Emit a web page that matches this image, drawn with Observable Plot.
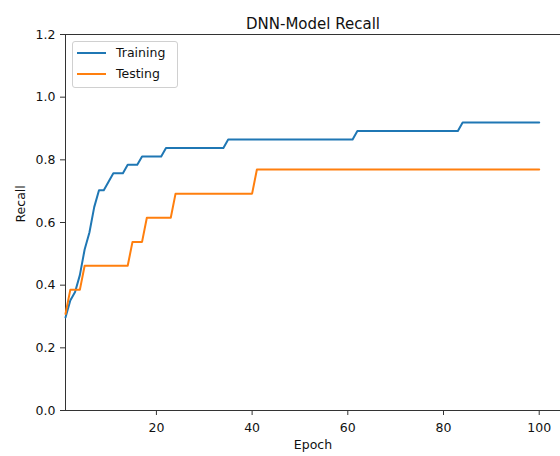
<!DOCTYPE html>
<html>
<head>
<meta charset="utf-8">
<script src="https://cdn.jsdelivr.net/npm/d3@7"></script>
<script src="https://cdn.jsdelivr.net/npm/@observablehq/plot@0.6"></script>
<style>
  html, body { margin: 0; padding: 0; background: #fff; }
  #wrap { position: relative; width: 560px; height: 456px; font-family: "DejaVu Sans", sans-serif; }
  #legend { position: absolute; left: 72px; top: 41px; width: 106px; height: 47px; box-sizing: border-box;
            border: 1px solid #d0d0d0; border-radius: 3px; background: rgba(255,255,255,0.8); }
  .item { position: absolute; left: 0; height: 16px; font-size: 12.5px; color: #111; line-height: 16px; }
  .sw { position: absolute; left: 4px; top: 7px; width: 29px; height: 2px; }
  .lab { position: absolute; left: 43px; top: 0; white-space: nowrap; }
</style>
</head>
<body>
<div id="wrap"></div>
<script>
const title = "DNN-Model Recall";
const xLabel = "Epoch";
const yLabel = "Recall";
const seriesNames = ["Training", "Testing"];
const seriesColors = ["#1f77b4", "#ff7f0e"];
const xTicks = [20, 40, 60, 80, 100];
const yTicks = [0.0, 0.2, 0.4, 0.6, 0.8, 1.0, 1.2];
const xDomain = [1, 104.45];
const yDomain = [0, 1.2];

const epochs = [
  1,2,3,4,5,6,7,8,9,10,
  11,12,13,14,15,16,17,18,19,20,
  21,22,23,24,25,26,27,28,29,30,
  31,32,33,34,35,36,37,38,39,40,
  41,42,43,44,45,46,47,48,49,50,
  51,52,53,54,55,56,57,58,59,60,
  61,62,63,64,65,66,67,68,69,70,
  71,72,73,74,75,76,77,78,79,80,
  81,82,83,84,85,86,87,88,89,90,
  91,92,93,94,95,96,97,98,99,100
];

const training = [
  0.297,0.351,0.378,0.432,0.514,0.568,0.649,0.703,0.703,0.730,
  0.757,0.757,0.757,0.784,0.784,0.784,0.811,0.811,0.811,0.811,
  0.811,0.838,0.838,0.838,0.838,0.838,0.838,0.838,0.838,0.838,
  0.838,0.838,0.838,0.838,0.865,0.865,0.865,0.865,0.865,0.865,
  0.865,0.865,0.865,0.865,0.865,0.865,0.865,0.865,0.865,0.865,
  0.865,0.865,0.865,0.865,0.865,0.865,0.865,0.865,0.865,0.865,
  0.865,0.892,0.892,0.892,0.892,0.892,0.892,0.892,0.892,0.892,
  0.892,0.892,0.892,0.892,0.892,0.892,0.892,0.892,0.892,0.892,
  0.892,0.892,0.892,0.919,0.919,0.919,0.919,0.919,0.919,0.919,
  0.919,0.919,0.919,0.919,0.919,0.919,0.919,0.919,0.919,0.919
];

const testing = [
  0.308,0.385,0.385,0.385,0.462,0.462,0.462,0.462,0.462,0.462,
  0.462,0.462,0.462,0.462,0.538,0.538,0.538,0.615,0.615,0.615,
  0.615,0.615,0.615,0.692,0.692,0.692,0.692,0.692,0.692,0.692,
  0.692,0.692,0.692,0.692,0.692,0.692,0.692,0.692,0.692,0.692,
  0.769,0.769,0.769,0.769,0.769,0.769,0.769,0.769,0.769,0.769,
  0.769,0.769,0.769,0.769,0.769,0.769,0.769,0.769,0.769,0.769,
  0.769,0.769,0.769,0.769,0.769,0.769,0.769,0.769,0.769,0.769,
  0.769,0.769,0.769,0.769,0.769,0.769,0.769,0.769,0.769,0.769,
  0.769,0.769,0.769,0.769,0.769,0.769,0.769,0.769,0.769,0.769,
  0.769,0.769,0.769,0.769,0.769,0.769,0.769,0.769,0.769,0.769
];

const rows = [];
[training, testing].forEach((vals, si) => {
  vals.forEach((v, i) => rows.push({epoch: epochs[i], value: v, series: seriesNames[si]}));
});

const chart = Plot.plot({
  width: 560,
  height: 456,
  marginLeft: 65,
  marginRight: 0,
  marginTop: 34,
  marginBottom: 46,
  style: {fontFamily: "DejaVu Sans, sans-serif", fontSize: "12.5px", color: "#111", background: "white", overflow: "visible"},
  x: {domain: xDomain},
  y: {domain: yDomain},
  color: {domain: seriesNames, range: seriesColors},
  marks: [
    Plot.axisX({ticks: xTicks, tickSize: 5, tickPadding: 8, label: null, stroke: "#333"}),
    Plot.axisY({ticks: yTicks, tickSize: 5, tickPadding: 5, tickFormat: d => d.toFixed(1), label: null, stroke: "#333"}),
    Plot.ruleY([yDomain[0], yDomain[1]], {stroke: "#333", strokeWidth: 1}),
    Plot.ruleX([xDomain[0]], {stroke: "#333", strokeWidth: 1}),
    Plot.line(rows, {x: "epoch", y: "value", z: "series", stroke: "series", strokeWidth: 2, strokeLinejoin: "round"}),
    Plot.text([title], {frameAnchor: "top", dy: -16.5, fontSize: 15, fill: "#111"}),
    Plot.text([xLabel], {frameAnchor: "bottom", dy: 38, fontSize: 12.5, fill: "#111"}),
    Plot.text([yLabel], {frameAnchor: "left", dx: -45, rotate: -90, fontSize: 12.5, fill: "#111"})
  ]
});

const wrap = document.getElementById("wrap");
wrap.appendChild(chart);

const legend = document.createElement("div");
legend.id = "legend";
seriesNames.forEach((name, i) => {
  const item = document.createElement("div");
  item.className = "item";
  item.style.top = (3 + i * 21) + "px";
  const sw = document.createElement("div");
  sw.className = "sw";
  sw.style.background = seriesColors[i];
  const lab = document.createElement("div");
  lab.className = "lab";
  lab.textContent = name;
  item.appendChild(sw);
  item.appendChild(lab);
  legend.appendChild(item);
});
wrap.appendChild(legend);
</script>
</body>
</html>
